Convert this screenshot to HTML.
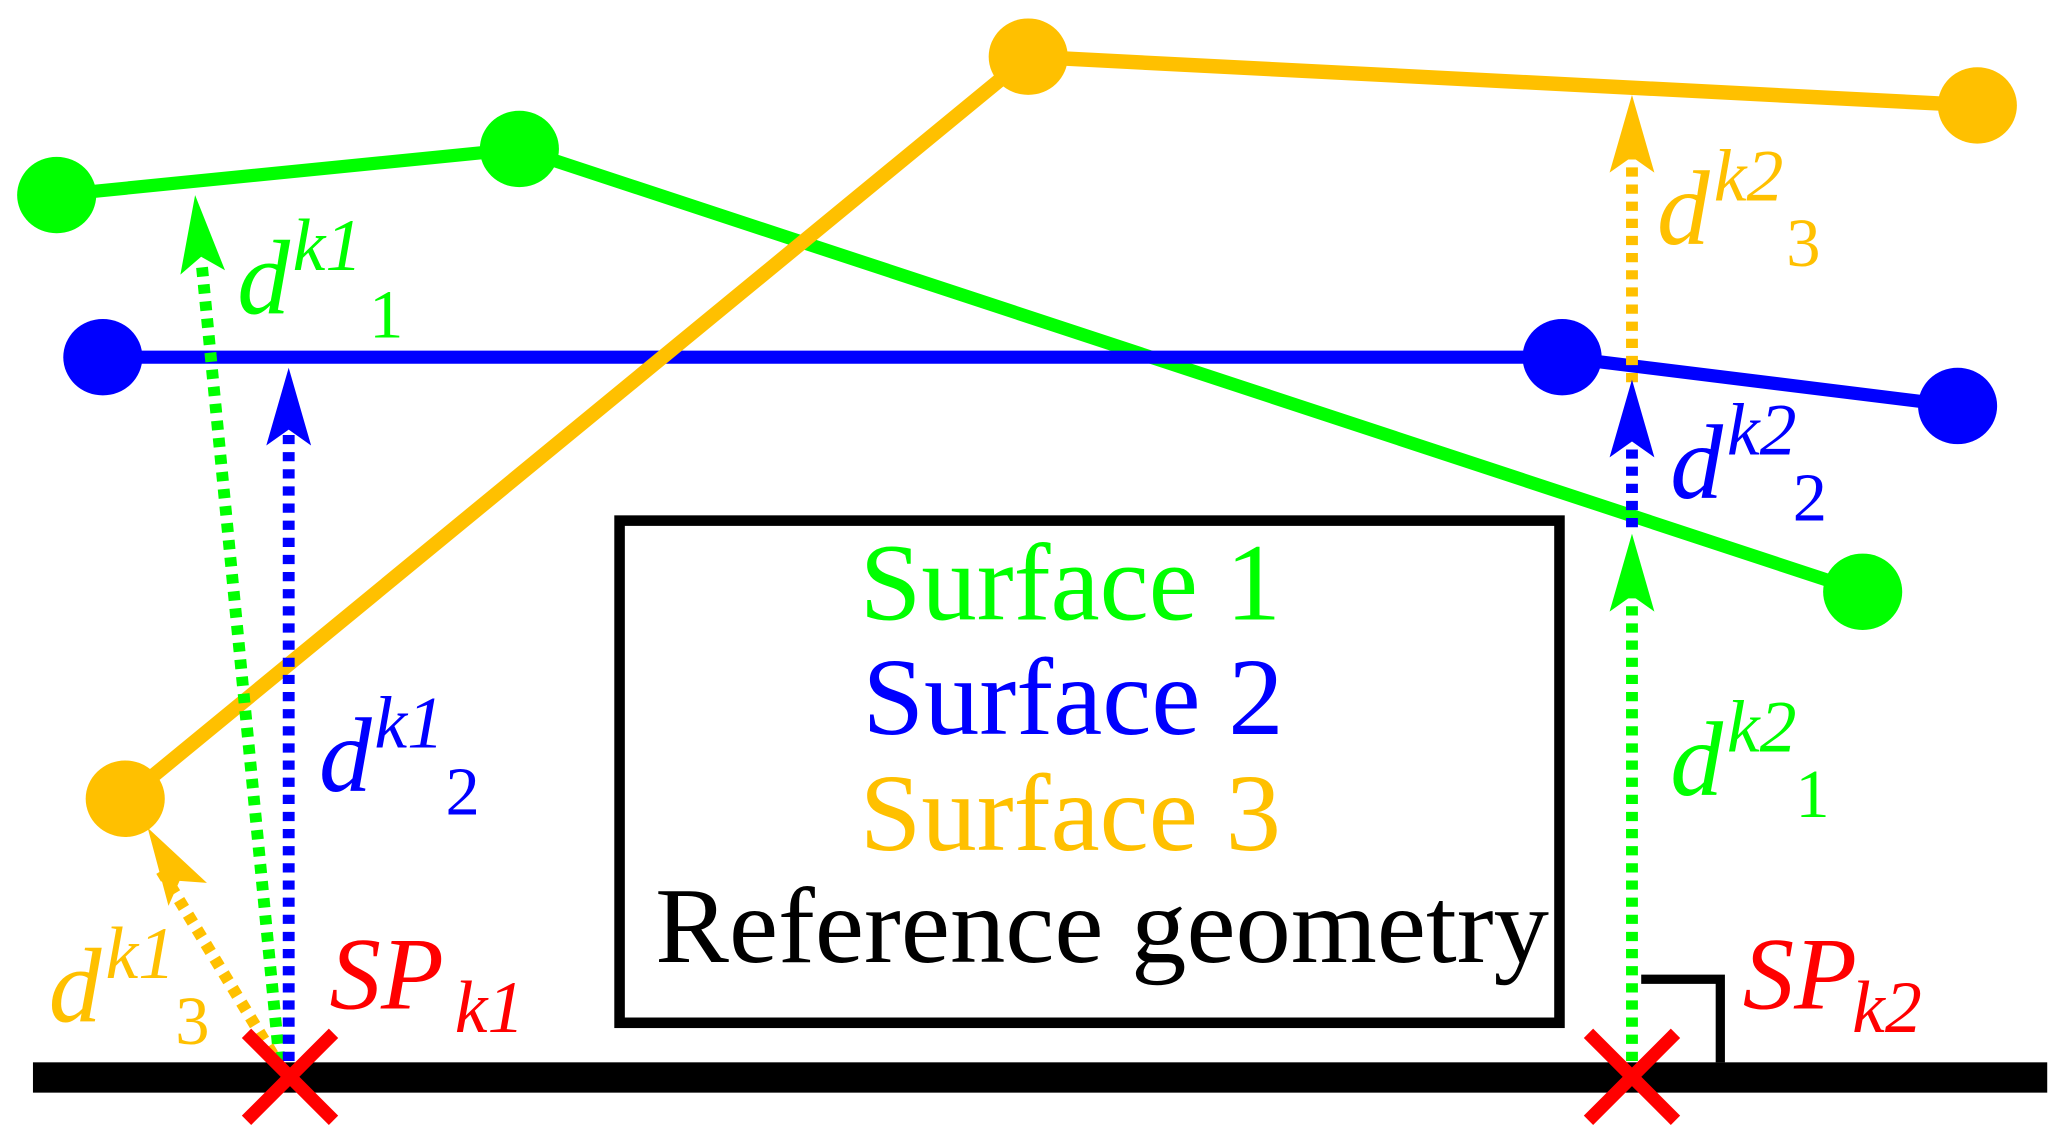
<!DOCTYPE html>
<html><head><meta charset="utf-8"><style>
html,body{margin:0;padding:0;background:#fff;}
svg{display:block;}
text{font-family:"Liberation Serif",serif;}
.i{font-style:italic;}
</style></head><body>
<svg width="2067" height="1148" viewBox="0 0 1568 871" preserveAspectRatio="none" xmlns="http://www.w3.org/2000/svg">
<defs>
<path id="ah" d="M0,0 L-17,59 L0,47 L17,59 Z"/>
</defs>
<!-- surfaces -->
<polyline points="43,148 394,113 1413,449" fill="none" stroke="#00ff00" stroke-width="10"/>
<polyline points="78,271 1185,271 1485,308" fill="none" stroke="#0000ff" stroke-width="10"/>
<polyline points="95,606 780,43 1500,80" fill="none" stroke="#ffc000" stroke-width="11"/>
<g fill="#00ff00"><ellipse cx="43" cy="148" rx="30" ry="29"/><ellipse cx="394" cy="113" rx="30" ry="29"/><ellipse cx="1413" cy="449" rx="30" ry="29"/></g>
<g fill="#0000ff"><ellipse cx="78" cy="271" rx="30" ry="29"/><ellipse cx="1185" cy="271" rx="30" ry="29"/><ellipse cx="1485" cy="308" rx="30" ry="29"/></g>
<g fill="#ffc000"><ellipse cx="95" cy="606" rx="30" ry="29"/><ellipse cx="780" cy="43" rx="30" ry="29"/><ellipse cx="1500" cy="80" rx="30" ry="29"/></g>

<!-- box -->
<rect x="470" y="395" width="713" height="381" fill="none" stroke="#000" stroke-width="8"/>
<text x="812" y="470" font-size="84" fill="#00ff00" text-anchor="middle">Surface 1</text>
<text x="814" y="557" font-size="84" fill="#0000ff" text-anchor="middle">Surface 2</text>
<text x="812" y="645" font-size="84" fill="#ffc000" text-anchor="middle">Surface 3</text>
<text x="836" y="730" font-size="82" fill="#000" text-anchor="middle" textLength="678" lengthAdjust="spacingAndGlyphs">Reference geometry</text>

<!-- ground -->
<rect x="25" y="806" width="1528" height="23" fill="#000"/>
<polyline points="1245,743 1305,743 1305,806" fill="none" stroke="#000" stroke-width="7"/>

<!-- k1 arrows -->
<g stroke-dasharray="7,6" stroke-width="9" fill="none">
<line x1="212" y1="805" x2="153" y2="200" stroke="#00ff00"/>
<line x1="219" y1="805" x2="219" y2="326" stroke="#0000ff"/>
<line x1="207" y1="800" x2="122" y2="660" stroke="#ffc000"/>
</g>
<use href="#ah" fill="#00ff00" transform="translate(148,148) rotate(-5.6)"/>
<use href="#ah" fill="#0000ff" transform="translate(219,279)"/>
<use href="#ah" fill="#ffc000" transform="translate(112,628) rotate(-31)"/>

<!-- k2 arrows -->
<g stroke-dasharray="7,6" stroke-width="9" fill="none">
<line x1="1238" y1="805" x2="1238" y2="440" stroke="#00ff00"/>
<line x1="1238" y1="400" x2="1238" y2="325" stroke="#0000ff"/>
<line x1="1238" y1="290" x2="1238" y2="110" stroke="#ffc000"/>
</g>
<use href="#ah" fill="#00ff00" transform="translate(1238,405)"/>
<use href="#ah" fill="#0000ff" transform="translate(1238,288)"/>
<use href="#ah" fill="#ffc000" transform="translate(1238,72)"/>

<!-- crosses -->
<g stroke="#ff0000" stroke-width="10">
<line x1="187" y1="784" x2="253" y2="850"/><line x1="253" y1="784" x2="187" y2="850"/>
<line x1="1205" y1="784" x2="1271" y2="850"/><line x1="1271" y1="784" x2="1205" y2="850"/>
</g>

<!-- labels -->
<g font-size="80">
<text class="i" x="180" y="238" fill="#00ff00">d</text><text class="i" x="222" y="205" font-size="56" fill="#00ff00">k1</text><text x="280" y="256" font-size="52" fill="#00ff00">1</text>
<text class="i" x="242" y="600" fill="#0000ff">d</text><text class="i" x="284" y="567" font-size="56" fill="#0000ff">k1</text><text x="338" y="618" font-size="52" fill="#0000ff">2</text>
<text class="i" x="37" y="775" fill="#ffc000">d</text><text class="i" x="80" y="742" font-size="56" fill="#ffc000">k1</text><text x="133" y="792" font-size="52" fill="#ffc000">3</text>
<text class="i" x="1257" y="185" fill="#ffc000">d</text><text class="i" x="1300" y="152" font-size="56" fill="#ffc000">k2</text><text x="1355" y="202" font-size="52" fill="#ffc000">3</text>
<text class="i" x="1267" y="378" fill="#0000ff">d</text><text class="i" x="1310" y="345" font-size="56" fill="#0000ff">k2</text><text x="1360" y="395" font-size="52" fill="#0000ff">2</text>
<text class="i" x="1267" y="603" fill="#00ff00">d</text><text class="i" x="1310" y="570" font-size="56" fill="#00ff00">k2</text><text x="1362" y="620" font-size="52" fill="#00ff00">1</text>
<text class="i" x="250" y="765" font-size="78" fill="#ff0000">SP</text><text class="i" x="345" y="783" font-size="56" fill="#ff0000">k1</text>
<text class="i" x="1322" y="765" font-size="78" fill="#ff0000">SP</text><text class="i" x="1405" y="783" font-size="56" fill="#ff0000">k2</text>
</g>
</svg>
</body></html>
